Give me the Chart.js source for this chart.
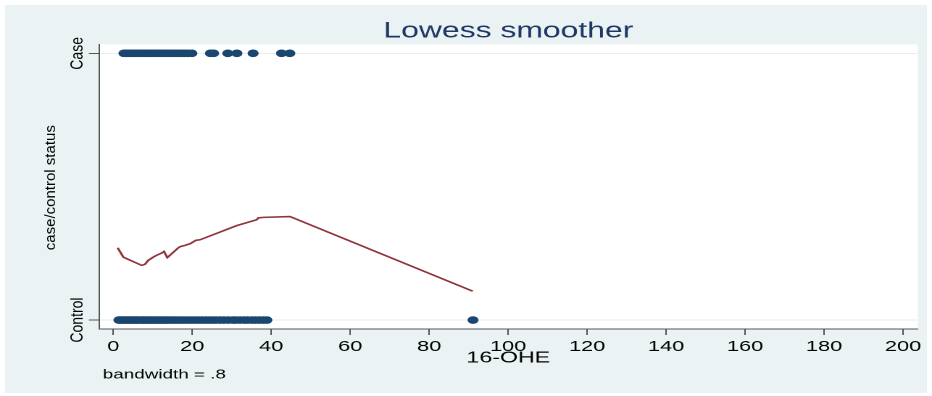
<!DOCTYPE html>
<html><head><meta charset="utf-8">
<script src="https://cdn.jsdelivr.net/npm/chart.js@4.4.0/dist/chart.umd.min.js"></script>
<style>
html,body{margin:0;padding:0;background:#fff;width:932px;height:396px;overflow:hidden}
#panel{position:absolute;left:5px;top:5px;width:922px;height:388px;background:#eaf2f3}
#wrap{position:absolute;left:0;top:0;width:643px;height:396px;transform:scaleX(1.44946);transform-origin:0 0}
</style></head><body>
<div id="panel"></div>
<div id="wrap"><canvas id="c" width="643" height="396"></canvas></div>
<script>
const xTicks = [0, 20, 40, 60, 80, 100, 120, 140, 160, 180, 200];
const yTickValues = [0, 1];
const yTickLabels = ['Control', 'Case'];
const caseX = [2.7,3.2,3.7,4.3,4.8,5.3,5.9,6.4,7.0,7.5,8.1,8.6,9.2,9.8,10.3,10.9,11.5,12.0,12.6,13.2,13.9,14.5,15.2,15.9,16.6,17.3,18.1,18.9,19.9,24.6,25.4,29.0,31.3,35.4,42.6,44.7];
const controlX = [1.4,1.8,2.3,2.7,3.1,3.6,4.0,4.5,4.9,5.4,5.8,6.3,6.9,7.4,7.8,8.3,8.9,9.4,9.9,10.5,11.0,11.6,12.1,12.7,13.3,13.9,14.6,15.2,15.9,16.7,17.4,18.2,19.0,19.9,20.8,21.7,22.5,23.4,24.3,25.2,26.0,27.1,28.0,29.1,30.3,31.0,32.1,33.2,34.0,35.1,36.0,37.0,38.0,38.9,91.1];
const lowessX = [1.11,2.53,3.39,7.19,8.03,8.86,10.13,10.99,12.26,12.84,13.68,16.46,17.07,18.16,19.42,20.94,21.96,31.25,36.32,36.72,37.99,44.75,91.02];
const lowessY = [0.271,0.236,0.230,0.205,0.209,0.224,0.236,0.243,0.251,0.257,0.234,0.271,0.276,0.280,0.286,0.299,0.301,0.354,0.376,0.383,0.385,0.388,0.108];

const FONT = '"Liberation Sans", Arial, sans-serif';
const NAVY = '#1a476f';

const decor = {
  id: 'decor',
  beforeDraw(chart) {
    const {ctx, chartArea: a} = chart;
    ctx.save();
    ctx.fillStyle = '#ffffff';
    ctx.fillRect(a.left, a.top, a.right - a.left, a.bottom - a.top);
    ctx.restore();
  },
  afterDraw(chart) {
    const {ctx, chartArea: a} = chart;
    const ys = chart.scales.y;
    ctx.save();
    ctx.fillStyle = '#000';
    ctx.textAlign = 'center';
    ctx.textBaseline = 'middle';
    ctx.font = '14px ' + FONT;
    yTickValues.forEach((v, i) => {
      const py = ys.getPixelForValue(v);
      ctx.save();
      ctx.translate(53.5, py);
      ctx.rotate(-Math.PI / 2);
      ctx.scale(1, 0.85);
      ctx.fillText(yTickLabels[i], 0, 0);
      ctx.restore();
    });
    ctx.save();
    ctx.font = '15px ' + FONT;
    ctx.translate(35.2, (a.top + a.bottom) / 2 + 1);
    ctx.rotate(-Math.PI / 2);
    ctx.scale(1, 0.66);
    ctx.fillText('case/control status', 0, 0);
    ctx.restore();
    ctx.textAlign = 'left';
    ctx.font = '13px ' + FONT;
    ctx.fillText('bandwidth = .8', 70.9, 375);
    ctx.restore();
  }
};

new Chart(document.getElementById('c'), {
  data: {
    datasets: [
      {
        type: 'scatter',
        data: caseX.map(x => ({x: x, y: 1})),
        backgroundColor: NAVY, borderColor: NAVY, borderWidth: 0,
        pointRadius: 3.8, pointHoverRadius: 3.8
      },
      {
        type: 'scatter',
        data: controlX.map(x => ({x: x, y: 0})),
        backgroundColor: NAVY, borderColor: NAVY, borderWidth: 0,
        pointRadius: 3.8, pointHoverRadius: 3.8
      },
      {
        type: 'line',
        data: lowessX.map((x, i) => ({x: x, y: lowessY[i]})),
        borderColor: '#90353b', borderWidth: 1.6,
        pointRadius: 0, tension: 0, fill: false
      }
    ]
  },
  options: {
    responsive: false,
    maintainAspectRatio: false,
    devicePixelRatio: 2,
    animation: false,
    events: [],
    layout: {padding: {left: 0, right: 9.9, top: 0, bottom: 0}},
    plugins: {
      legend: {display: false},
      tooltip: {enabled: false},
      title: {
        display: true, text: 'Lowess smoother', fullSize: false,
        color: '#1e3764', font: {family: FONT, size: 22, weight: 'normal', lineHeight: 1.2},
        padding: {top: 18, bottom: 0}
      }
    },
    scales: {
      x: {
        type: 'linear', min: -3.62, max: 203.7,
        afterBuildTicks: s => { s.ticks = xTicks.map(v => ({value: v})); },
        afterFit: s => { s.height = 67; },
        ticks: {color: '#000', font: {family: FONT, size: 15}, padding: 3, maxRotation: 0, autoSkip: false},
        grid: {display: true, drawOnChartArea: false, drawTicks: true, tickLength: 6, tickColor: '#555', tickWidth: 1},
        border: {display: true, color: '#555', width: 1},
        title: {display: true, text: '16-OHE', color: '#000', font: {family: FONT, size: 16, lineHeight: 1.2}, padding: {top: 0, bottom: 28.4}}
      },
      y: {
        type: 'linear', min: -0.0336, max: 1.0336,
        afterBuildTicks: s => { s.ticks = yTickValues.map(v => ({value: v})); },
        afterFit: s => { s.width = 68.3; },
        ticks: {color: 'rgba(0,0,0,0)', font: {family: FONT, size: 12}},
        grid: {display: true, drawOnChartArea: true, color: '#e4eef0', lineWidth: 1, drawTicks: true, tickLength: 7, tickColor: '#555', tickWidth: 1},
        border: {display: true, color: '#555', width: 1},
        title: {display: false}
      }
    }
  },
  plugins: [decor]
});
</script>
</body></html>
